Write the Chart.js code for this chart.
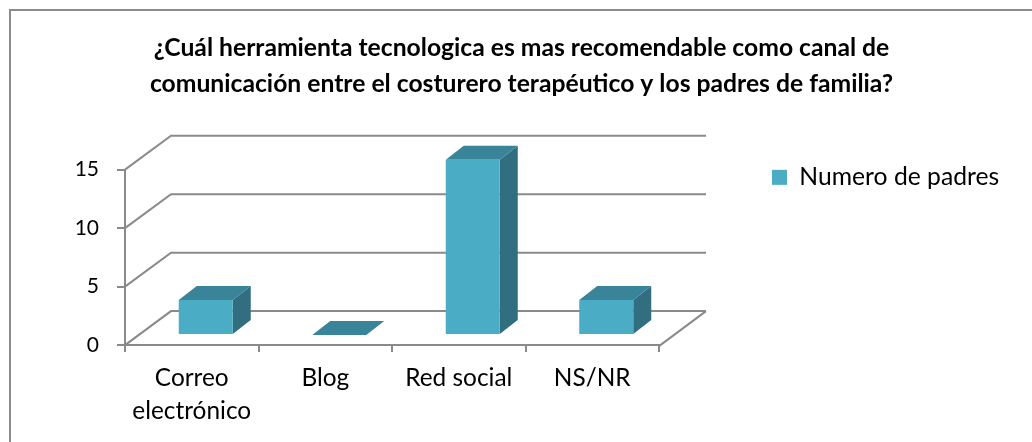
<!DOCTYPE html>
<html>
<head>
<meta charset="utf-8">
<script src="https://cdn.jsdelivr.net/npm/chart.js@4/dist/chart.umd.min.js"></script>
<style>
  html, body { margin: 0; padding: 0; background: #fff; overflow: hidden; }
  #frame { position: absolute; left: 9px; top: 9px; width: 1030px; height: 440px; border-left: 2px solid #8c8c8c; border-top: 2px solid #8c8c8c; }
  #wrap { position: absolute; left: 0; top: 0; width: 1032px; height: 442px; }
</style>
</head>
<body>
<div id="frame"></div>
<div id="wrap"><canvas id="chart"></canvas></div>
<script>
const categories = [['Correo', 'electrónico'], 'Blog', 'Red social', 'NS/NR'];
const seriesName = 'Numero de padres';
const seriesValues = [3, 0, 15, 3];
const titleLines = [
    '¿Cuál herramienta tecnologica es mas recomendable como canal de',
    'comunicación entre el costurero terapéutico y los padres de familia?'
];

const axisColor = '#8a8a8a';
const frontColor = '#4bacc6';
const topColor = '#3a8499';
const sideColor = '#316f80';

// fake 3D: back wall, floor and bar sides, all taken from the chart scales
const depth3d = {
    id: 'depth3d',
    afterLayout(chart) {
        // legend sits level with the top of the y axis
        chart.legend.top += 21;
        chart.legend.bottom += 21;
    },
    beforeDatasetsDraw(chart) {
        const ctx = chart.ctx;
        const y = chart.scales.y;
        const left = chart.chartArea.left;
        const right = chart.chartArea.right;
        const wallX = 46;
        const wallY = 34;

        ctx.save();
        ctx.strokeStyle = axisColor;
        ctx.lineWidth = 2;
        y.ticks.forEach(t => {
            const py = y.getPixelForValue(t.value);
            ctx.beginPath();
            ctx.moveTo(left, py);
            ctx.lineTo(left + wallX, py - wallY);
            ctx.lineTo(right + wallX + 1, py - wallY);
            ctx.stroke();
        });
        // right edge of the floor
        const floorY = y.getPixelForValue(0) + 1;
        ctx.beginPath();
        ctx.moveTo(right, floorY);
        ctx.lineTo(right + wallX + 1, floorY - wallY - 1);
        ctx.stroke();
        ctx.restore();

        // the bars stand in the middle of the floor depth
        const shiftX = 14;
        const shiftY = -10;
        const barX = 18;
        const barY = 14;
        ctx.save();
        ctx.translate(shiftX, shiftY);
        chart.getDatasetMeta(0).data.forEach(bar => {
            const l = bar.x - bar.width / 2;
            const r = bar.x + bar.width / 2;
            ctx.fillStyle = sideColor;
            ctx.beginPath();
            ctx.moveTo(r, bar.y);
            ctx.lineTo(r + barX, bar.y - barY);
            ctx.lineTo(r + barX, bar.base - barY);
            ctx.lineTo(r, bar.base);
            ctx.closePath();
            ctx.fill();
            ctx.fillStyle = topColor;
            ctx.beginPath();
            ctx.moveTo(l, bar.y);
            ctx.lineTo(l + barX, bar.y - barY);
            ctx.lineTo(r + barX, bar.y - barY);
            ctx.lineTo(r, bar.y);
            ctx.closePath();
            ctx.fill();
        });
    },
    afterDatasetsDraw(chart) {
        chart.ctx.restore();
    }
};

new Chart(document.getElementById('chart'), {
    type: 'bar',
    data: {
        labels: categories,
        datasets: [{
            label: seriesName,
            data: seriesValues,
            backgroundColor: frontColor,
            categoryPercentage: 1,
            barPercentage: 0.4045
        }]
    },
    options: {
        responsive: true,
        maintainAspectRatio: false,
        animation: false,
        layout: { padding: { left: 44, right: 33, top: 31, bottom: 4 } },
        plugins: {
            tooltip: { enabled: false },
            title: {
                display: true,
                text: titleLines,
                color: '#000',
                font: { family: 'Lato', size: 24.7, weight: 'bold', lineHeight: 1.42 },
                padding: { top: 0, bottom: 68.5 }
            },
            legend: {
                position: 'right',
                align: 'start',
                maxWidth: 340,
                labels: {
                    boxWidth: 15,
                    boxHeight: 15,
                    padding: 113,
                    color: '#000',
                    font: { family: 'Lato', size: 24.7 }
                }
            }
        },
        scales: {
            x: {
                grid: { drawOnChartArea: false, color: axisColor, lineWidth: 2, tickLength: 7 },
                border: { color: axisColor, width: 2 },
                ticks: { color: '#000', padding: 10, maxRotation: 0, autoSkip: false, font: { family: 'Lato', size: 24.4, lineHeight: 1.35 } }
            },
            y: {
                min: 0,
                max: 15,
                afterFit(scale) { scale.width = 81; },
                grid: { drawOnChartArea: false, color: axisColor, lineWidth: 2, tickLength: 8 },
                border: { color: axisColor, width: 2 },
                ticks: { stepSize: 5, color: '#000', padding: 18, font: { family: 'Lato', size: 21 } }
            }
        }
    },
    plugins: [depth3d]
});
</script>
</body>
</html>
